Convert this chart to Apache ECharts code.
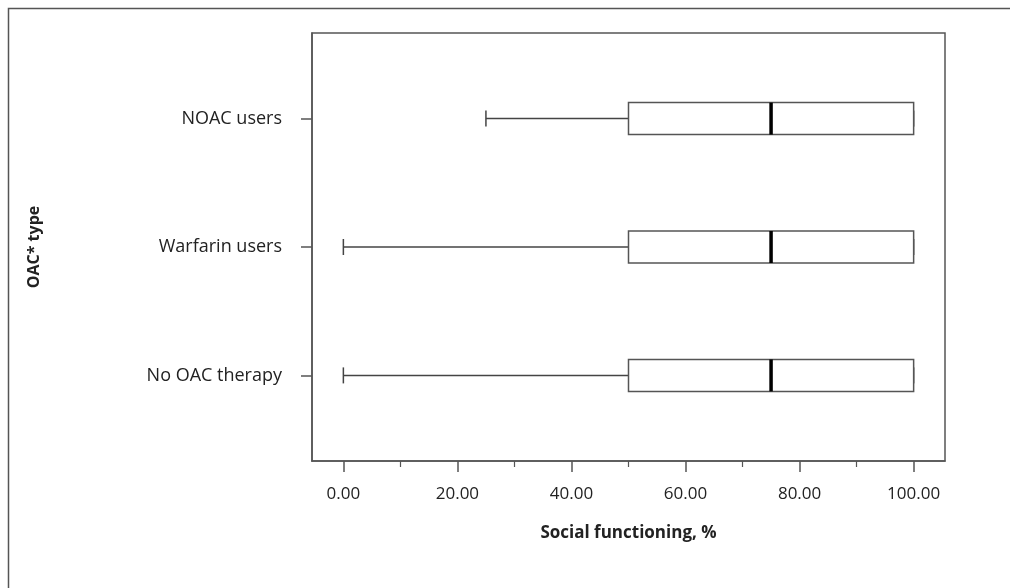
<!DOCTYPE html>
<html>
<head>
<meta charset="utf-8">
<script src="https://cdn.jsdelivr.net/npm/echarts@6/dist/echarts.min.js"></script>
<style>html,body{margin:0;padding:0;background:#fff}#c{width:1010px;height:588px}</style>
</head>
<body>
<div id="c"></div>
<script>
var categories = ['No OAC therapy', 'Warfarin users', 'NOAC users'];
var minValues = [0, 0, 25];
var q1Values = [50, 50, 50];
var medianValues = [75, 75, 75];
var q3Values = [100, 100, 100];
var maxValues = [100, 100, 100];
var xTickLabels = [0, 20, 40, 60, 80, 100];
var xMinorTicks = [10, 30, 50, 70, 90];

var data = categories.map(function (c, i) {
  return [i + 1, minValues[i], q1Values[i], medianValues[i], q3Values[i], maxValues[i]];
});

var FONT = 'Open Sans';
var chart = echarts.init(document.getElementById('c'));
chart.setOption({
  animation: false,
  backgroundColor: '#fff',
  graphic: [{
    type: 'rect', shape: {x: 8.5, y: 8.5, width: 1100, height: 700},
    style: {fill: 'none', stroke: '#555', lineWidth: 1.5}, silent: true, z: -1
  }],
  grid: {left: 312, top: 33, right: 65, bottom: 127, show: true, borderColor: '#555', borderWidth: 1.5, backgroundColor: 'transparent'},
  xAxis: [{
    type: 'value', min: -5.5, max: 105.5,
    name: 'Social functioning, %', nameLocation: 'middle', nameGap: 64,
    nameTextStyle: {fontFamily: FONT, fontSize: 17, fontWeight: 'bold', color: '#222'},
    axisLine: {show: true, onZero: false, lineStyle: {color: '#555', width: 1.5}},
    axisTick: {show: true, length: 11, customValues: xTickLabels, lineStyle: {color: '#555', width: 1.5}},
    axisLabel: {customValues: xTickLabels, margin: 25, fontFamily: FONT, fontSize: 17, color: '#222',
      formatter: function (v) { return v.toFixed(2); }},
    splitLine: {show: false}
  }, {
    type: 'value', min: -5.5, max: 105.5, position: 'bottom',
    axisLine: {show: false, onZero: false},
    axisTick: {show: true, length: 6, customValues: xMinorTicks, lineStyle: {color: '#555', width: 1.2}},
    axisLabel: {show: false},
    splitLine: {show: false}
  }],
  yAxis: {
    type: 'value', min: 1 / 3, max: 11 / 3,
    name: 'OAC* type', nameLocation: 'middle', nameGap: 270,
    nameTextStyle: {fontFamily: FONT, fontSize: 16, fontWeight: 'bold', color: '#222'},
    axisLine: {show: true, onZero: false, lineStyle: {color: '#555', width: 1.5}},
    axisTick: {show: true, length: 11, customValues: [1, 2, 3], lineStyle: {color: '#555', width: 1.5}},
    axisLabel: {customValues: [1, 2, 3], margin: 30, fontFamily: FONT, fontSize: 18, color: '#222',
      formatter: function (v) { return categories[Math.round(v) - 1]; }},
    splitLine: {show: false}
  },
  series: [{
    type: 'custom',
    xAxisIndex: 0,
    data: data,
    encode: {y: 0, x: [1, 2, 3, 4, 5]},
    renderItem: function (params, api) {
      var y = api.value(0);
      var pMin = api.coord([api.value(1), y]);
      var pQ1 = api.coord([api.value(2), y]);
      var pMed = api.coord([api.value(3), y]);
      var pQ3 = api.coord([api.value(4), y]);
      var pMax = api.coord([api.value(5), y]);
      var cy = pMin[1];
      var hb = 16, hc = 8;
      var ls = {stroke: '#444', lineWidth: 1.5, fill: 'none'};
      return {
        type: 'group',
        children: [
          {type: 'line', shape: {x1: pMin[0], y1: cy, x2: pQ1[0], y2: cy}, style: ls},
          {type: 'line', shape: {x1: pMin[0], y1: cy - hc, x2: pMin[0], y2: cy + hc}, style: ls},
          {type: 'line', shape: {x1: pQ3[0], y1: cy, x2: pMax[0], y2: cy}, style: ls},
          {type: 'line', shape: {x1: pMax[0], y1: cy - hc, x2: pMax[0], y2: cy + hc}, style: ls},
          {type: 'rect', shape: {x: pQ1[0], y: cy - hb, width: pQ3[0] - pQ1[0], height: 2 * hb},
            style: {stroke: '#555', lineWidth: 1.5, fill: '#fff'}},
          {type: 'line', shape: {x1: pMed[0], y1: cy - hb, x2: pMed[0], y2: cy + hb},
            style: {stroke: '#000', lineWidth: 3.5}}
        ]
      };
    }
  }]
});
</script>
</body>
</html>
